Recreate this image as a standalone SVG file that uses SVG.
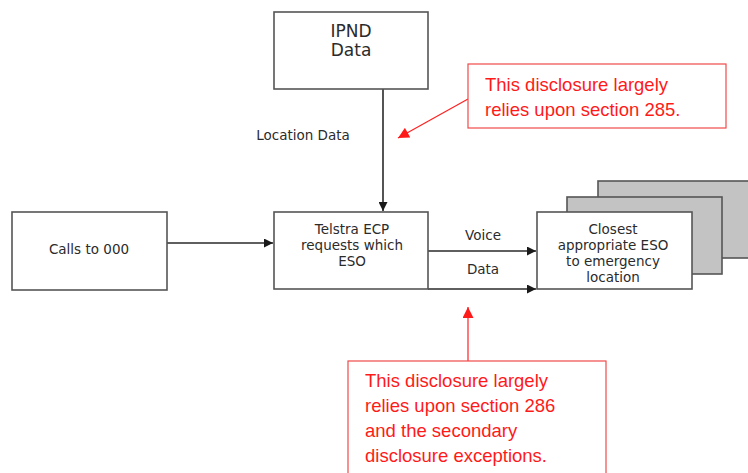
<svg xmlns="http://www.w3.org/2000/svg" width="748" height="473" viewBox="0 0 748 473">
  <style>
    .box { fill: #ffffff; stroke: #555555; stroke-width: 1.6; }
    .stack { fill: #c3c3c3; stroke: #555555; stroke-width: 1.6; }
    .lbl { font-family: "DejaVu Sans", Verdana, sans-serif; font-size: 13.5px; fill: #2b2b2b; text-anchor: middle; }
    .big { font-size: 17px; }
    .wire { stroke: #2a2a2a; stroke-width: 1.6; fill: none; }
    .note { fill: #ffffff; stroke: #f04a4a; stroke-width: 1.2; }
    .noteText { font-family: "Liberation Sans", Arial, sans-serif; font-size: 18.5px; fill: #ff1a1a; }
    .redWire { stroke: #ff2020; stroke-width: 1.2; fill: none; }
  </style>
  <defs>
    <marker id="arrow" viewBox="0 0 10 10" refX="10" refY="5" markerWidth="10" markerHeight="9" markerUnits="userSpaceOnUse" orient="auto">
      <path d="M0,0 L10,5 L0,10 z" fill="#1a1a1a"/>
    </marker>
    <marker id="redArrow" viewBox="0 0 10 10" refX="10" refY="5" markerWidth="13" markerHeight="11" markerUnits="userSpaceOnUse" orient="auto">
      <path d="M0,0 L10,5 L0,10 z" fill="#ff1a1a"/>
    </marker>
  </defs>

  <!-- connectors -->
  <g id="connectors">
    <line class="wire" x1="383" y1="89" x2="383" y2="211" marker-end="url(#arrow)"/>
    <line class="wire" x1="167" y1="243" x2="273" y2="243" marker-end="url(#arrow)"/>
    <line class="wire" x1="428" y1="251" x2="536" y2="251" marker-end="url(#arrow)"/>
    <line class="wire" x1="428" y1="289" x2="536" y2="289" marker-end="url(#arrow)"/>
    <text class="lbl" x="303" y="140">Location Data</text>
    <text class="lbl" x="483" y="240">Voice</text>
    <text class="lbl" x="483" y="274">Data</text>
  </g>

  <!-- IPND data source -->
  <g id="ipnd">
    <rect class="box" x="274" y="12" width="154" height="77"/>
    <text class="lbl big" x="351" y="37">IPND</text>
    <text class="lbl big" x="351" y="56">Data</text>
  </g>

  <!-- incoming calls -->
  <g id="calls">
    <rect class="box" x="12" y="212" width="155" height="78"/>
    <text class="lbl" x="89" y="254">Calls to 000</text>
  </g>

  <!-- Telstra emergency call person -->
  <g id="telstra">
    <rect class="box" x="274" y="212" width="154" height="77"/>
    <text class="lbl" x="352" y="234">Telstra ECP</text>
    <text class="lbl" x="352" y="250">requests which</text>
    <text class="lbl" x="352" y="266">ESO</text>
  </g>

  <!-- emergency service organisations (stacked) -->
  <g id="eso">
    <rect class="stack" x="598" y="181" width="160" height="77"/>
    <rect class="stack" x="567" y="197" width="155" height="77"/>
    <rect class="box" x="537" y="212" width="155" height="77"/>
    <text class="lbl" x="613" y="234">Closest</text>
    <text class="lbl" x="613" y="250">appropriate ESO</text>
    <text class="lbl" x="613" y="266">to emergency</text>
    <text class="lbl" x="613" y="282">location</text>
  </g>

  <!-- note on section 285 -->
  <g id="note285">
    <line class="redWire" x1="468" y1="99" x2="398" y2="138" marker-end="url(#redArrow)"/>
    <rect class="note" x="468" y="64" width="258" height="64"/>
    <text class="noteText" x="485" y="91">This disclosure largely</text>
    <text class="noteText" x="485" y="116">relies upon section 285.</text>
  </g>

  <!-- note on section 286 -->
  <g id="note286">
    <line class="redWire" x1="468" y1="361" x2="468" y2="307" marker-end="url(#redArrow)"/>
    <rect class="note" x="348" y="361" width="258" height="118"/>
    <text class="noteText" x="365" y="387">This disclosure largely</text>
    <text class="noteText" x="365" y="412">relies upon section 286</text>
    <text class="noteText" x="365" y="437">and the secondary</text>
    <text class="noteText" x="365" y="462">disclosure exceptions.</text>
  </g>
</svg>
